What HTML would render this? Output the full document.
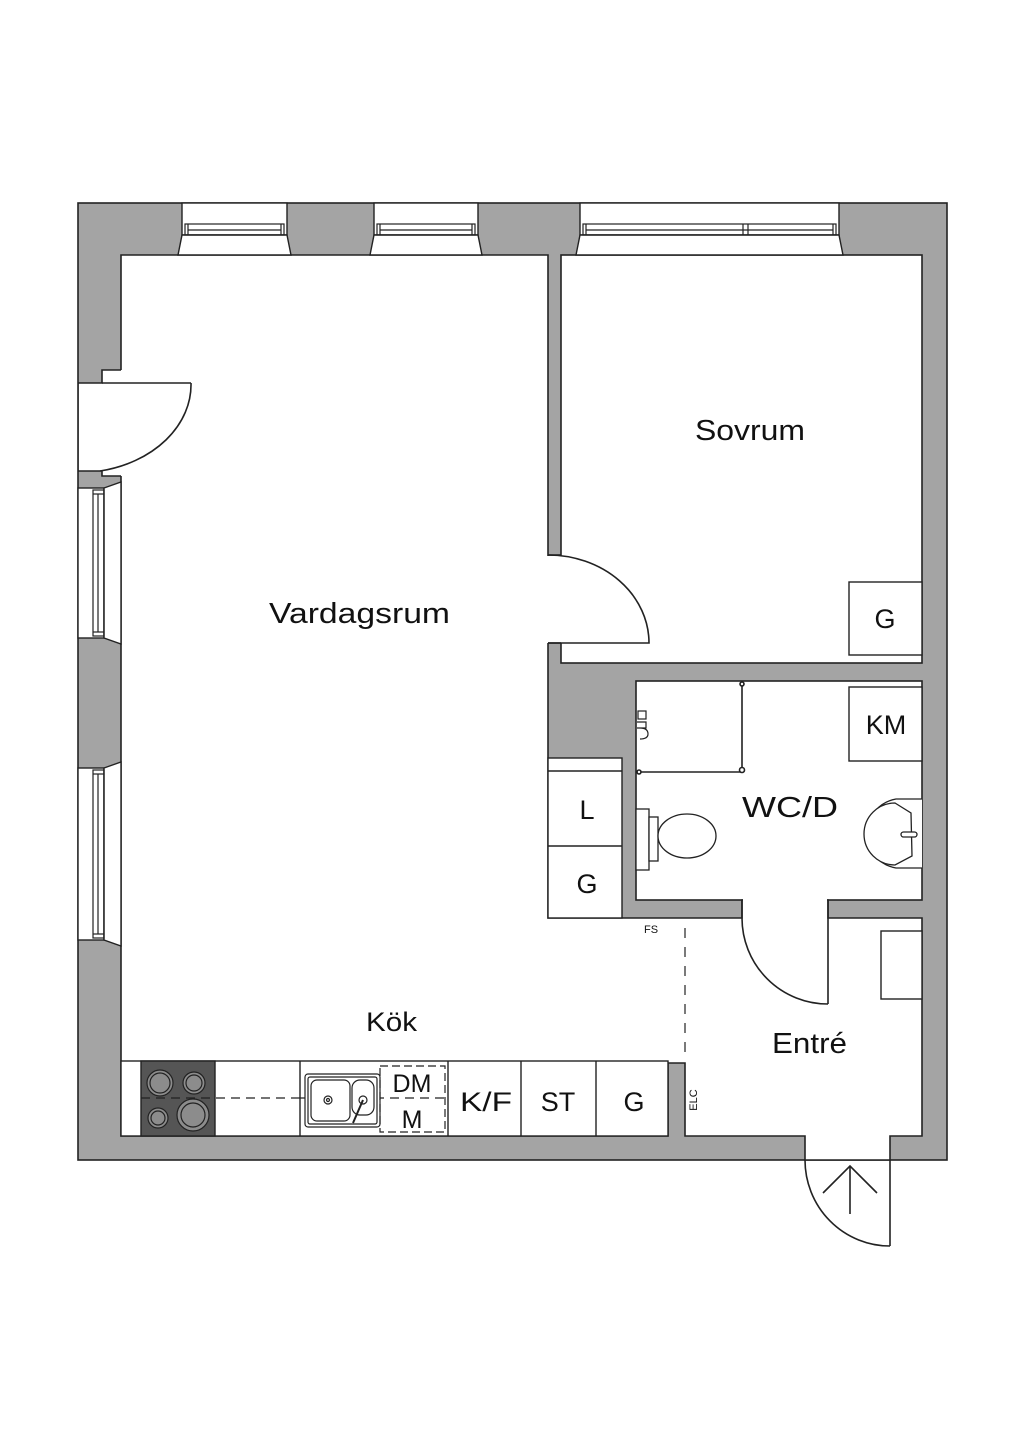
<!DOCTYPE html>
<html><head><meta charset="utf-8"><style>
html,body{margin:0;padding:0;background:#fff;}
svg{display:block;}
text{font-family:"Liberation Sans",sans-serif;fill:#111;}
</style></head><body>
<svg width="1024" height="1448" viewBox="0 0 1024 1448" xmlns="http://www.w3.org/2000/svg">
<g stroke="#222" stroke-width="1.6" fill="none">
<rect x="78" y="203" width="869" height="957" fill="#a4a4a4"/>
<rect x="561" y="255" width="361" height="408" fill="#fff"/>
<rect x="636" y="681" width="286" height="219" fill="#fff"/>
<polygon fill="#fff" points="121,255 548,255 548,918 742,918 742,900 828,900 828,918 922,918 922,1136 890,1136 890,1160 805,1160 805,1136 685,1136 685,1063 668,1063 668,1136 121,1136"/>
</g>
<rect x="743" y="898" width="84" height="22" fill="#fff"/>
<rect x="547" y="556" width="15" height="87" fill="#fff"/>
<rect x="806" y="1134" width="83" height="4" fill="#fff"/>
<g stroke="#222" stroke-width="1.6" fill="none">
<line x1="742" y1="900" x2="742" y2="918"/>
<line x1="828" y1="900" x2="828" y2="918"/>
<line x1="548" y1="555" x2="561" y2="555"/>
<line x1="548" y1="643" x2="561" y2="643"/>
</g>
<!-- left door opening -->
<rect x="79" y="383" width="44" height="88" fill="#fff"/>
<rect x="102" y="370" width="21" height="106" fill="#fff"/>
<g stroke="#222" stroke-width="1.6" fill="none">
<polyline points="121,370 102,370 102,383 78,383"/>
<polyline points="78,471 102,471 102,476 121,476"/>
<path d="M191,383 A113,88 0 0 1 100,471"/>
<line x1="102" y1="383" x2="191" y2="383"/>
<path d="M548,555 A101,88 0 0 1 649,643 L548,643"/>
<line x1="828" y1="918" x2="828" y2="1004"/>
<path d="M742,918 A86,86 0 0 0 828,1004"/>
<line x1="890" y1="1160" x2="890" y2="1246"/>
<path d="M805,1160 A85,86 0 0 0 890,1246"/>
<line x1="850" y1="1214" x2="850" y2="1166"/>
<polyline points="823,1193 850,1166 877,1193"/>
</g>
<g stroke="#222" stroke-width="1.4" fill="#fff">
<rect x="182" y="203" width="105" height="32"/>
<polygon points="182,235 287,235 291,255 178,255"/>
<rect x="374" y="203" width="104" height="32"/>
<polygon points="374,235 478,235 482,255 370,255"/>
<rect x="580" y="203" width="259" height="32"/>
<polygon points="580,235 839,235 843,255 576,255"/>
</g>
<g stroke="#222" stroke-width="1.2" fill="none">
<rect x="185" y="224" width="99" height="11"/><line x1="188" y1="224" x2="188" y2="235"/><line x1="281" y1="224" x2="281" y2="235"/><line x1="188" y1="230" x2="281" y2="230"/>
<rect x="377" y="224" width="98" height="11"/><line x1="380" y1="224" x2="380" y2="235"/><line x1="472" y1="224" x2="472" y2="235"/><line x1="380" y1="230" x2="472" y2="230"/>
<rect x="583" y="224" width="253" height="11"/><line x1="586" y1="224" x2="586" y2="235"/><line x1="833" y1="224" x2="833" y2="235"/><line x1="586" y1="230" x2="833" y2="230"/><line x1="743" y1="224" x2="743" y2="235"/><line x1="748" y1="224" x2="748" y2="235"/>
</g>
<g stroke="#222" stroke-width="1.4" fill="#fff">
<rect x="78" y="488" width="26" height="150"/>
<polygon points="104,488 121,482 121,644 104,638"/>
<rect x="78" y="768" width="26" height="172"/>
<polygon points="104,768 121,762 121,946 104,940"/>
</g>
<g stroke="#222" stroke-width="1.2" fill="none">
<rect x="93" y="490" width="11" height="146"/><line x1="98" y1="494" x2="98" y2="632"/><line x1="93" y1="494" x2="104" y2="494"/><line x1="93" y1="632" x2="104" y2="632"/>
<rect x="93" y="770" width="11" height="168"/><line x1="98" y1="774" x2="98" y2="934"/><line x1="93" y1="774" x2="104" y2="774"/><line x1="93" y1="934" x2="104" y2="934"/>
</g>
<g stroke="#222" stroke-width="1.4" fill="#fff">
<rect x="849" y="582" width="73" height="73"/>
<rect x="849" y="687" width="73" height="74"/>
<rect x="548" y="758" width="74" height="160"/>
<line x1="548" y1="771" x2="622" y2="771"/>
<line x1="548" y1="846" x2="622" y2="846"/>
<rect x="881" y="931" width="41" height="68"/>
</g>
<g stroke="#222" stroke-width="1.6" fill="none">
<line x1="742" y1="683" x2="742" y2="772"/>
<line x1="638" y1="772" x2="742" y2="772"/>
<circle cx="742" cy="684" r="2" fill="#fff"/>
<circle cx="742" cy="770" r="2.5" fill="#fff"/>
<circle cx="639" cy="772" r="2" fill="#fff"/>
<rect x="638" y="711" width="8" height="8" stroke-width="1.2"/>
<path d="M637,722 h9 v6 h-9 M640,728 q8,0 8,6 q0,5 -8,5" stroke-width="1.2"/>
</g>
<g stroke="#222" stroke-width="1.3" fill="#fff">
<rect x="636" y="809" width="13" height="61"/>
<rect x="649" y="817" width="9" height="44"/>
<ellipse cx="687" cy="836" rx="29" ry="22"/>
</g>
<g stroke="#222" stroke-width="1.3" fill="#fff">
<path d="M922,799 L896,799 A35,35 0 0 0 896,868 L922,868"/>
<path d="M895,803 L911,813 L912,856 L895,865 A31,31 0 0 1 895,803 Z"/>
<rect x="901" y="832" width="16" height="5" rx="2.5"/>
</g>
<g stroke="#222" stroke-width="1.4" fill="#fff">
<rect x="121" y="1061" width="547" height="75"/>
<rect x="141" y="1061" width="74" height="75" fill="#555"/>
<line x1="300" y1="1061" x2="300" y2="1136"/>
<line x1="448" y1="1061" x2="448" y2="1136"/>
<line x1="521" y1="1061" x2="521" y2="1136"/>
<line x1="596" y1="1061" x2="596" y2="1136"/>
</g>
<g stroke="#222" stroke-width="1.2" fill="#8c8c8c">
<circle cx="160" cy="1083" r="13"/><circle cx="160" cy="1083" r="10"/>
<circle cx="194" cy="1083" r="11"/><circle cx="194" cy="1083" r="8"/>
<circle cx="158" cy="1118" r="10"/><circle cx="158" cy="1118" r="7"/>
<circle cx="193" cy="1115" r="16"/><circle cx="193" cy="1115" r="12"/>
</g>
<g stroke="#222" stroke-width="1.2" fill="none">
<line x1="141" y1="1098" x2="300" y2="1098" stroke-dasharray="9,6"/>
<line x1="300" y1="1098" x2="448" y2="1098" stroke-dasharray="9,6"/>
<rect x="305" y="1074" width="75" height="53" rx="3" fill="#fff"/>
<rect x="308" y="1077" width="69" height="47" rx="2"/>
<rect x="311" y="1080" width="39" height="41" rx="6"/>
<rect x="352" y="1080" width="22" height="35" rx="8"/>
<circle cx="328" cy="1100" r="4"/><circle cx="328" cy="1100" r="1.5"/>
<circle cx="363" cy="1100" r="4"/>
<line x1="363" y1="1100" x2="353" y2="1123" stroke-width="2"/>
<rect x="380" y="1066" width="65" height="66" stroke-dasharray="8,4"/>
<line x1="685" y1="928" x2="685" y2="1060" stroke-dasharray="10,9"/>
</g>
<text x="269" y="623" font-size="29" textLength="181" lengthAdjust="spacingAndGlyphs">Vardagsrum</text>
<text x="695" y="440" font-size="29" textLength="110" lengthAdjust="spacingAndGlyphs">Sovrum</text>
<text x="366" y="1031" font-size="27" textLength="51" lengthAdjust="spacingAndGlyphs">Kök</text>
<text x="742" y="817" font-size="29" textLength="96" lengthAdjust="spacingAndGlyphs">WC/D</text>
<text x="772" y="1053" font-size="29" textLength="75" lengthAdjust="spacingAndGlyphs">Entré</text>
<text x="885" y="628" font-size="27" text-anchor="middle">G</text>
<text x="886" y="734" font-size="27" text-anchor="middle">KM</text>
<text x="587" y="819" font-size="27" text-anchor="middle">L</text>
<text x="587" y="893" font-size="27" text-anchor="middle">G</text>
<text x="412" y="1092" font-size="25" text-anchor="middle">DM</text>
<text x="412" y="1128" font-size="25" text-anchor="middle">M</text>
<text x="460" y="1111" font-size="27" textLength="52" lengthAdjust="spacingAndGlyphs">K/F</text>
<text x="558" y="1111" font-size="27" text-anchor="middle">ST</text>
<text x="634" y="1111" font-size="27" text-anchor="middle">G</text>
<text x="651" y="933" font-size="11" text-anchor="middle">FS</text>
<text x="0" y="0" font-size="11" text-anchor="middle" transform="translate(697,1100) rotate(-90)">ELC</text>
</svg>
</body></html>
